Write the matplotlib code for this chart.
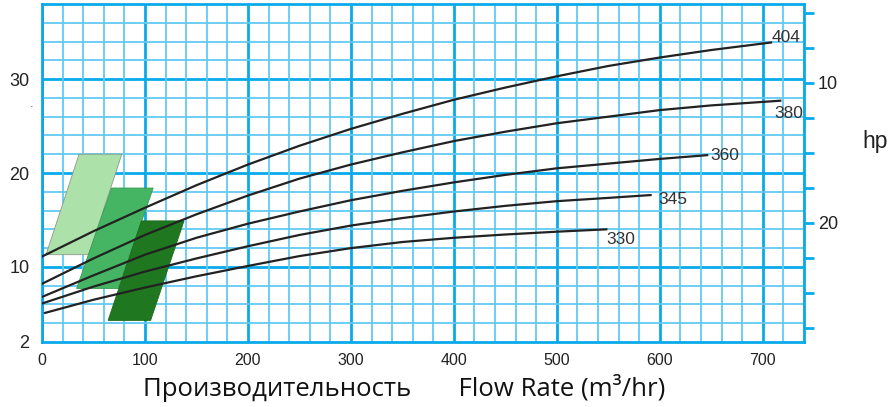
import matplotlib
matplotlib.use("Agg")
import matplotlib.pyplot as plt
from matplotlib.patches import Polygon
from matplotlib.ticker import FixedLocator, MultipleLocator, FuncFormatter

# Кривые (расход м3/ч -> напор), подписи по диаметру рабочего колеса
curve_labels = ["404", "380", "360", "345", "330"]
flow_404 = [0, 50, 100, 150, 200, 250, 300, 350, 400, 450, 500, 550, 600, 650, 708]
head_404 = [11.1, 13.8, 16.3, 18.7, 20.9, 22.9, 24.7, 26.3, 27.8, 29.1, 30.3, 31.4, 32.3, 33.1, 33.9]
flow_380 = [0, 50, 100, 150, 200, 250, 300, 350, 400, 450, 500, 550, 600, 650, 717]
head_380 = [8.2, 10.9, 13.4, 15.6, 17.6, 19.4, 20.9, 22.2, 23.4, 24.4, 25.3, 26.0, 26.7, 27.2, 27.7]
flow_360 = [0, 50, 100, 150, 200, 250, 300, 350, 400, 450, 500, 550, 600, 646]
head_360 = [6.8, 9.1, 11.3, 13.1, 14.6, 15.9, 17.1, 18.1, 19.0, 19.8, 20.5, 21.0, 21.5, 21.9]
flow_345 = [0, 50, 100, 150, 200, 250, 300, 350, 400, 450, 500, 550, 591]
head_345 = [6.1, 7.9, 9.5, 10.9, 12.2, 13.4, 14.4, 15.2, 15.9, 16.5, 17.0, 17.35, 17.65]
flow_330 = [3, 50, 100, 150, 200, 250, 300, 350, 400, 450, 500, 548]
head_330 = [5.1, 6.5, 7.8, 9.0, 10.1, 11.15, 12.0, 12.65, 13.1, 13.45, 13.75, 14.0]

# зелёные параллелограммы (зоны КПД)
zone_light_x = [3.9, 36.0, 77.5, 45.4]
zone_light_y = [11.3, 22.0, 22.0, 11.3]
zone_mid_x = [33.6, 67.6, 108.0, 74.0]
zone_mid_y = [7.7, 18.4, 18.4, 7.7]
zone_dark_x = [64.2, 96.6, 137.9, 105.5]
zone_dark_y = [4.3, 14.9, 14.9, 4.3]

x_ticks = [0, 100, 200, 300, 400, 500, 600, 700]
y_ticks = [2, 10, 20, 30]
hp_ticks = [5, 7.5, 10, 12.5, 15, 17.5, 20, 22.5, 25, 27.5]
hp_labels = [10, 20]

BLUE = "#0aaaea"
MINOR = "#62c9f3"

fig = plt.figure(figsize=(8.95, 4.07), dpi=100)
ax = fig.add_axes([42 / 895, 65 / 407, 762 / 895, 338 / 407])
ax.set_xlim(0, 740)
ax.set_ylim(2, 38)

# сетка
ax.xaxis.set_minor_locator(MultipleLocator(20))
ax.yaxis.set_minor_locator(MultipleLocator(2))
ax.set_xticks(x_ticks)
ax.set_yticks(y_ticks)
ax.grid(which="minor", color=MINOR, lw=1.3, zorder=0)
for xv in x_ticks:
    ax.axvline(xv, color=BLUE, lw=2.0, zorder=0.5)
for yv in y_ticks[1:]:
    ax.axhline(yv, color=BLUE, lw=2.0, zorder=0.5)
for sp in ax.spines.values():
    sp.set_color(BLUE)
    sp.set_linewidth(2.0)

ax.tick_params(which="both", length=0)
ax.tick_params(axis="y", labelsize=13, pad=9, labelcolor="#222222")
ax.tick_params(axis="x", labelsize=11.5, pad=8, labelcolor="#222222")
for lab in ax.get_xticklabels() + ax.get_yticklabels():
    lab.set_family("Liberation Sans")

zones = [
    (zone_light_x, zone_light_y, "#ace2a9", "#8a9a8a"),
    (zone_mid_x, zone_mid_y, "#45b564", "#3a9a55"),
    (zone_dark_x, zone_dark_y, "#1f781f", "#1a6a1a"),
]
for zx, zy, fc, ec in zones:
    ax.add_patch(Polygon(list(zip(zx, zy)), closed=True, facecolor=fc,
                         edgecolor=ec, lw=0.6, zorder=2))

flows = [flow_404, flow_380, flow_360, flow_345, flow_330]
heads = [head_404, head_380, head_360, head_345, head_330]
offsets = [(0.7, 3.4), (-4, -9.2), (2, 0), (5.3, -2.9), (0, -7)]
for lab, fx, hy, off in zip(curve_labels, flows, heads, offsets):
    ax.plot(fx, hy, color="#222222", lw=1.6, zorder=3)
    ax.annotate(lab, xy=(fx[-1], hy[-1]), xytext=off, textcoords="offset points",
                ha="left", va="center", fontsize=12.5, color="#333333",
                family="Liberation Sans", zorder=4, annotation_clip=False)

ax.text(-10, 27.3, ".", fontsize=8, color="#555555", ha="center", va="center",
        clip_on=False)

# правая шкала, hp
ax2 = ax.twinx()
ax2.set_ylim(28.5, 4.36)
ax2.yaxis.set_major_locator(FixedLocator(hp_ticks))
ax2.yaxis.set_major_formatter(FuncFormatter(
    lambda v, p: f"{v:g}" if v in hp_labels else ""))
ax2.tick_params(axis="y", length=7, width=2, color=BLUE, pad=3,
                labelsize=13, labelcolor="#222222")
for lab in ax2.get_yticklabels():
    lab.set_family("Liberation Sans")
for sp in ax2.spines.values():
    sp.set_visible(False)
ax2.set_ylabel("hp", rotation=0, fontsize=16.5, family="Liberation Sans",
               color="#222222", ha="center", va="center")
ax2.yaxis.set_label_coords(1.093, 0.592)

fig.text(143 / 895, 19 / 407, "Производительность       Flow Rate (m\u00b3/hr)",
         fontsize=18.5, family=["Open Sans", "DejaVu Sans"], color="#111111",
         ha="left", va="center")

fig.savefig("out.png", dpi=100)
